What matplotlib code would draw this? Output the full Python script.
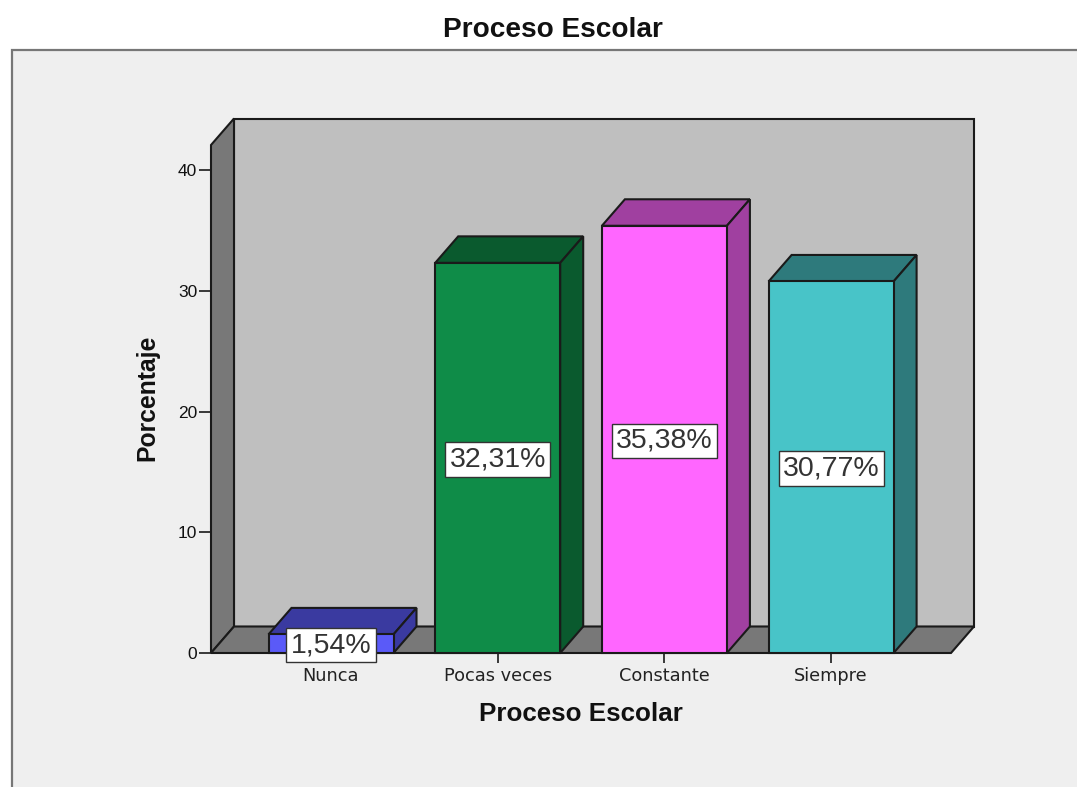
import matplotlib
matplotlib.use("Agg")
import matplotlib.pyplot as plt
from matplotlib.patches import Rectangle, Polygon

# ---- data ----
categories = ["Nunca", "Pocas veces", "Constante", "Siempre"]
values = [1.54, 32.31, 35.38, 30.77]
value_labels = ["1,54%", "32,31%", "35,38%", "30,77%"]
y_ticks = [0, 10, 20, 30, 40]
front_colors = ["#5A5AF8", "#0F8C48", "#FF66FF", "#48C4C8"]
top_colors = ["#3A3AA0", "#0A5A2E", "#A040A0", "#2E7A7C"]
side_colors = ["#3A3AA0", "#0A5A2E", "#A040A0", "#2E7A7C"]

W, H = 1077, 787
plt.rcParams["font.family"] = ["Liberation Sans", "DejaVu Sans"]
fig = plt.figure(figsize=(W / 100, H / 100), dpi=100, facecolor="white")

# panel background
bg = fig.add_axes([0, 0, 1, 1], zorder=0)
bg.set_xlim(0, W); bg.set_ylim(H, 0); bg.axis("off")
bg.add_patch(Rectangle((12, 50), W + 20, H + 20, facecolor="#EFEFEF",
                       edgecolor="#777777", linewidth=1.6))

# plot axes: front plane of the 3-D frame
L, R, B, T = 211, 951, 653, 145
ax = fig.add_axes([L / W, 1 - B / H, (R - L) / W, (B - T) / H], zorder=1)
px_per_cat = 166.7
px_per_unit = 12.075
ax.set_xlim(-(331 - L) / px_per_cat, (R - 331) / px_per_cat)
ax.set_ylim(0, (B - T) / px_per_unit)
ax.patch.set_alpha(0)
for s in ax.spines.values():
    s.set_visible(False)

dx = 23 / px_per_cat
dy = 26.5 / px_per_unit
x0, x1 = ax.get_xlim()
y0, y1 = ax.get_ylim()
edge = "#1A1A1A"
lw = 1.5


def poly(pts, fc, z):
    ax.add_patch(Polygon(pts, closed=True, facecolor=fc, edgecolor=edge,
                         linewidth=lw, clip_on=False, zorder=z, joinstyle="miter"))


# walls
poly([(x0 + dx, y0 + dy), (x1 + dx, y0 + dy), (x1 + dx, y1 + dy), (x0 + dx, y1 + dy)], "#BFBFBF", 1)
poly([(x0, y0), (x0 + dx, y0 + dy), (x0 + dx, y1 + dy), (x0, y1)], "#787878", 2)
poly([(x0, y0), (x1, y0), (x1 + dx, y0 + dy), (x0 + dx, y0 + dy)], "#787878", 2)

# bars
bar_w = 125 / px_per_cat
xs = list(range(len(categories)))
bars = ax.bar(xs, values, width=bar_w, color=front_colors, edgecolor=edge,
              linewidth=lw, zorder=5, clip_on=False)
for x, v, tc, sc in zip(xs, values, top_colors, side_colors):
    a, b = x - bar_w / 2, x + bar_w / 2
    poly([(a, v), (b, v), (b + dx, v + dy), (a + dx, v + dy)], tc, 4)
    poly([(b, 0), (b + dx, dy), (b + dx, v + dy), (b, v)], sc, 4)

# value labels
for x, v, t in zip(xs, values, value_labels):
    ax.text(x, max(v / 2, 0.7) - 0.12, t, ha="center", va="center", fontsize=20.5,
            color="#333333", zorder=8, clip_on=False,
            bbox=dict(boxstyle="square,pad=0.15", facecolor="white",
                      edgecolor="#333333", linewidth=1.0))

# ticks
ax.set_xticks(xs)
ax.set_xticklabels(categories, fontsize=12.8, color="#222222", family="DejaVu Sans")
ax.set_yticks(y_ticks)
ax.set_yticklabels([str(t) for t in y_ticks], fontsize=12.5, color="#111111")
ax.tick_params(axis="x", length=7, width=1.2, color=edge, pad=3)
ax.tick_params(axis="y", length=9, width=1.2, color=edge, pad=1)

ax.set_xlabel("Proceso Escolar", fontsize=18.7, fontweight="bold", color="#111111")
ax.xaxis.set_label_coords((581 - L) / (R - L), -(714 - B) / (B - T), transform=ax.transAxes)
ax.xaxis.label.set_va("center")
ax.set_ylabel("Porcentaje", fontsize=17.8, fontweight="bold", color="#111111")
ax.yaxis.set_label_coords((147 - L) / (R - L), (B - 398) / (B - T), transform=ax.transAxes)
ax.yaxis.label.set_va("center")

fig.text(552.5 / W, 1 - 30 / H, "Proceso Escolar", ha="center", va="center",
         fontsize=20.2, fontweight="bold", color="#111111")

fig.savefig("out.png", dpi=100, facecolor="white")
